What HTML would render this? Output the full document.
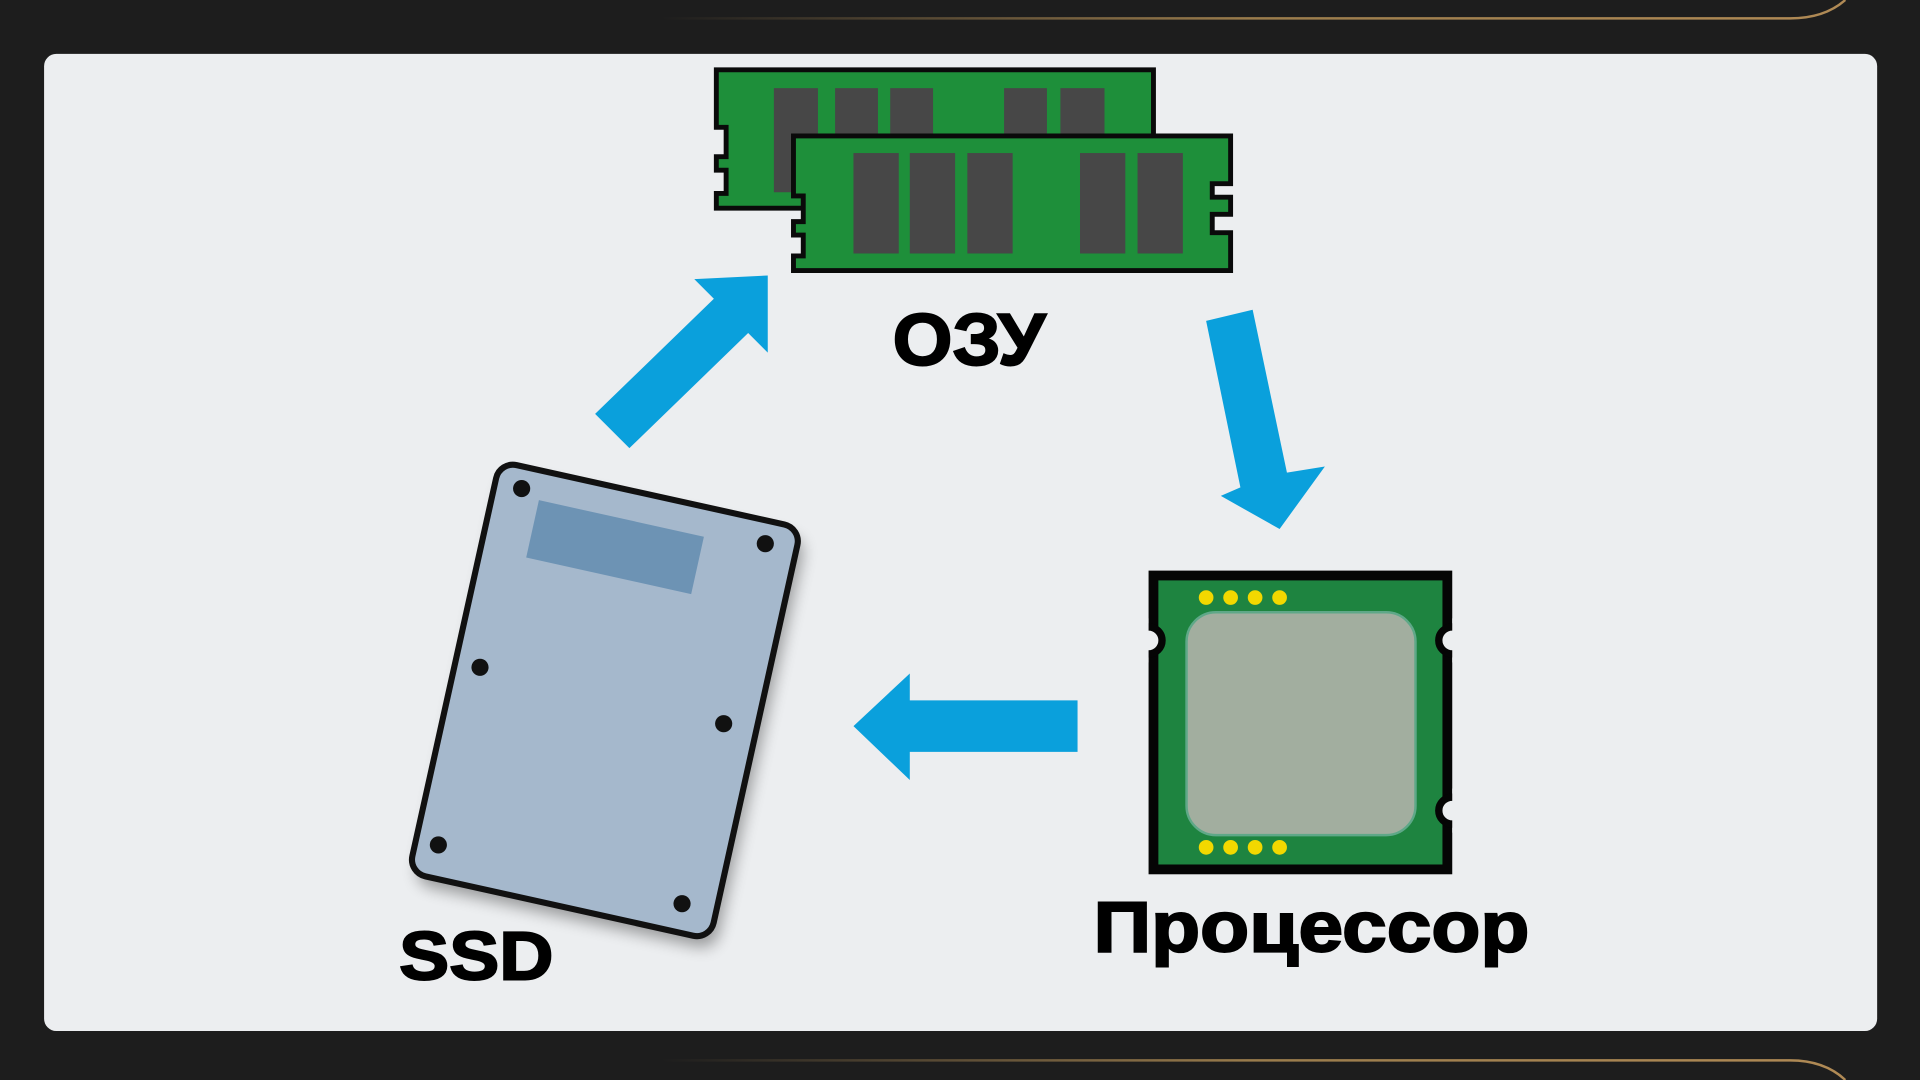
<!DOCTYPE html>
<html><head><meta charset="utf-8"><style>
html,body{margin:0;padding:0;background:#1d1d1d;width:1920px;height:1080px;overflow:hidden}
svg{display:block}
text{font-family:"Liberation Sans",sans-serif;font-weight:bold;fill:#000;stroke:#000;stroke-width:1.6}
</style></head><body>
<svg width="1920" height="1080" viewBox="0 0 1568 882" preserveAspectRatio="none" xmlns="http://www.w3.org/2000/svg">
<defs>
<linearGradient id="g" x1="0" x2="1"><stop offset="0" stop-color="#a08050" stop-opacity="0"/><stop offset="0.5" stop-color="#9a7c4c"/><stop offset="1" stop-color="#b08a55"/></linearGradient>
<filter id="sh" x="-20%" y="-20%" width="140%" height="140%"><feGaussianBlur stdDeviation="6"/></filter>
</defs>
<rect width="1568" height="882" fill="#1d1d1d"/>
<path d="M540,15 H1462 Q1490,15 1507,0" stroke="url(#g)" stroke-width="2" fill="none"/>
<path d="M540,866 H1462 Q1490,866 1507,882" stroke="url(#g)" stroke-width="2" fill="none"/>
<rect x="36" y="44" width="1497" height="798" rx="10" fill="#eceef0"/>

<!-- RAM back -->
<path d="M585,57 H942 V170 H585 V158 H593 V139 H585 V128 H593 V104 H585 Z" fill="#1e8f3a" stroke="#0a0a0a" stroke-width="4"/>
<g fill="#474747">
<rect x="632" y="72" width="36" height="85"/><rect x="682" y="72" width="35" height="60"/><rect x="727" y="72" width="35" height="60"/><rect x="820" y="72" width="35" height="60"/><rect x="866" y="72" width="36" height="60"/>
</g>
<!-- RAM front -->
<path d="M648,111 H1005 V150 H990 V161 H1005 V175 H990 V190 H1005 V221 H648 V209 H656 V192 H648 V181 H656 V160 H648 Z" fill="#1e8f3a" stroke="#0a0a0a" stroke-width="4"/>
<g fill="#474747">
<rect x="697" y="125" width="37" height="82"/><rect x="743" y="125" width="37" height="82"/><rect x="790" y="125" width="37" height="82"/><rect x="882" y="125" width="37" height="82"/><rect x="929" y="125" width="37" height="82"/>
</g>
<text x="729" y="298" font-size="60" textLength="125" lengthAdjust="spacingAndGlyphs">ОЗУ</text>

<!-- arrows -->
<g fill="#0aa0dc">
<polygon points="486,338 583,244 567,228 627,225 627,288 611,272 514,366"/>
<polygon points="985,262 1023,253 1051,386 1082,381 1045,432 997,405 1013,398"/>
<polygon points="880,572 743,572 743,550 697,593 743,637 743,614 880,614"/>
</g>

<!-- CPU -->
<rect x="942" y="470" width="240" height="240" fill="#1e8440" stroke="#050505" stroke-width="8"/>
<g fill="#eceef0" stroke="#050505" stroke-width="6">
<circle cx="938" cy="523" r="11"/><circle cx="1186" cy="523" r="11"/><circle cx="1186" cy="662" r="11"/>
</g>
<rect x="920" y="505" width="18" height="36" fill="#eceef0"/>
<rect x="1186" y="505" width="16" height="36" fill="#eceef0"/><rect x="1186" y="644" width="16" height="36" fill="#eceef0"/>
<rect x="969" y="500" width="187" height="182" rx="24" fill="#a2ae9f" stroke="#5fa888" stroke-width="2"/>
<g fill="#f2d800">
<circle cx="985" cy="488" r="6"/><circle cx="1005" cy="488" r="6"/><circle cx="1025" cy="488" r="6"/><circle cx="1045" cy="488" r="6"/>
<circle cx="985" cy="692" r="6"/><circle cx="1005" cy="692" r="6"/><circle cx="1025" cy="692" r="6"/><circle cx="1045" cy="692" r="6"/>
</g>
<text x="893" y="777" font-size="58" textLength="356" lengthAdjust="spacingAndGlyphs">Процессор</text>

<!-- SSD -->
<g transform="translate(494,572) rotate(12.5)">
<rect x="-126" y="-172" width="252" height="344" rx="14" fill="#000" opacity="0.35" filter="url(#sh)" transform="translate(6,8)"/>
<rect x="-126" y="-172" width="252" height="344" rx="14" fill="#a5b8cc" stroke="#111" stroke-width="5"/>
<rect x="-88" y="-148" width="138" height="48" fill="#6d93b4"/>
</g>
<g fill="#111">
<circle cx="426" cy="399" r="7"/><circle cx="625" cy="444" r="7"/><circle cx="392" cy="545" r="7"/><circle cx="591" cy="591" r="7"/><circle cx="358" cy="690" r="7"/><circle cx="557" cy="738" r="7"/>
</g>
<text x="326" y="800" font-size="56" textLength="126" lengthAdjust="spacingAndGlyphs">SSD</text>
</svg>
</body></html>
